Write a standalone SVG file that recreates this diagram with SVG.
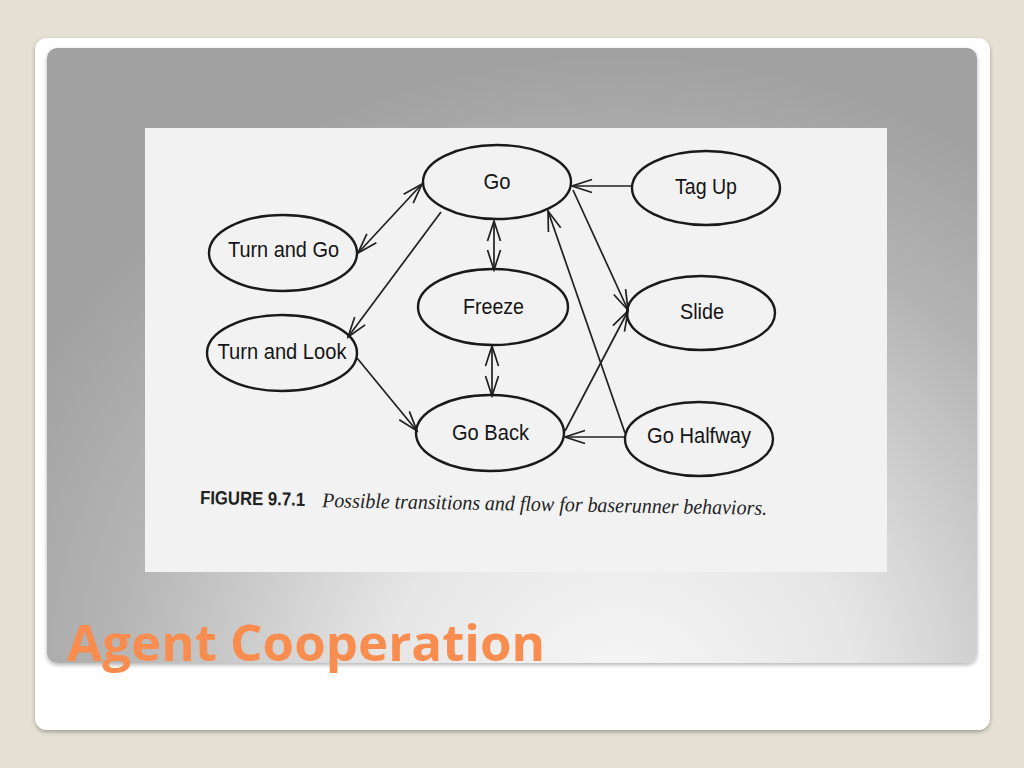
<svg xmlns="http://www.w3.org/2000/svg" width="1024" height="768" viewBox="0 0 1024 768">
<defs>
<style>
.node ellipse{fill:none;stroke:#1a1a1a;stroke-width:2.4}
.node text{font-family:"Liberation Sans",Arial,sans-serif;font-size:22px;fill:#151515;text-anchor:middle}
.conn line{stroke:#202020;stroke-width:1.7}
</style>
<radialGradient id="pg" cx="620" cy="700" r="680" gradientUnits="userSpaceOnUse" gradientTransform="translate(620 700) scale(1 0.95) translate(-620 -700)">
<stop offset="0" stop-color="#f7f7f7"/>
<stop offset="0.35" stop-color="#e6e6e6"/>
<stop offset="0.75" stop-color="#b4b4b4"/>
<stop offset="1" stop-color="#a1a1a1"/>
</radialGradient>
<filter id="sh" x="-5%" y="-5%" width="110%" height="110%">
<feGaussianBlur in="SourceAlpha" stdDeviation="2"/>
<feOffset dx="0" dy="2"/>
<feComponentTransfer><feFuncA type="linear" slope="0.3"/></feComponentTransfer>
<feMerge><feMergeNode/><feMergeNode in="SourceGraphic"/></feMerge>
</filter>
<marker id="ah" viewBox="-22 -10 24 20" refX="0" refY="0" markerWidth="24" markerHeight="20" markerUnits="userSpaceOnUse" orient="auto-start-reverse">
<path d="M-20,-6.5 L0,0 L-20,6.5" fill="none" stroke="#202020" stroke-width="1.7"/>
</marker>
</defs>
<rect width="1024" height="768" fill="#e4e0d3"/>
<rect x="35" y="38" width="955" height="692" rx="12" fill="#ffffff" filter="url(#sh)"/>
<rect x="47" y="48" width="930" height="615" rx="10" fill="url(#pg)" filter="url(#sh)"/>
<rect x="145" y="128" width="742" height="444" fill="#f2f2f2"/>

<g class="conn" id="connectors">
<line x1="422" y1="184" x2="358" y2="253" marker-start="url(#ah)" marker-end="url(#ah)"/>
<line x1="441" y1="212" x2="348" y2="337" marker-end="url(#ah)"/>
<line x1="494" y1="221" x2="494" y2="270" marker-start="url(#ah)" marker-end="url(#ah)"/>
<line x1="492" y1="346" x2="492" y2="396" marker-start="url(#ah)" marker-end="url(#ah)"/>
<line x1="357" y1="358" x2="417" y2="431" marker-end="url(#ah)"/>
<line x1="632" y1="186" x2="572" y2="186" marker-end="url(#ah)"/>
<line x1="573" y1="190" x2="628" y2="310" marker-end="url(#ah)"/>
<line x1="625" y1="433" x2="548" y2="211" marker-end="url(#ah)"/>
<line x1="565" y1="431" x2="628" y2="311" marker-end="url(#ah)"/>
<line x1="625" y1="437" x2="565" y2="437" marker-end="url(#ah)"/>
</g>

<g class="node" id="go"><ellipse cx="497" cy="182" rx="74" ry="37"/><text x="497" y="189" textLength="27" lengthAdjust="spacingAndGlyphs">Go</text></g>
<g class="node" id="turn-and-go"><ellipse cx="283" cy="253" rx="74" ry="38"/><text x="283.5" y="257" textLength="111" lengthAdjust="spacingAndGlyphs">Turn and Go</text></g>
<g class="node" id="turn-and-look"><ellipse cx="282" cy="353" rx="75" ry="38"/><text x="282" y="359" textLength="129" lengthAdjust="spacingAndGlyphs">Turn and Look</text></g>
<g class="node" id="freeze"><ellipse cx="493" cy="307" rx="75" ry="38"/><text x="493.5" y="314" textLength="61" lengthAdjust="spacingAndGlyphs">Freeze</text></g>
<g class="node" id="go-back"><ellipse cx="490" cy="433" rx="74" ry="38"/><text x="490.5" y="440" textLength="77" lengthAdjust="spacingAndGlyphs">Go Back</text></g>
<g class="node" id="tag-up"><ellipse cx="706" cy="188" rx="74" ry="37"/><text x="706" y="194" textLength="62" lengthAdjust="spacingAndGlyphs">Tag Up</text></g>
<g class="node" id="slide"><ellipse cx="701" cy="313" rx="74" ry="37"/><text x="702" y="319" textLength="44" lengthAdjust="spacingAndGlyphs">Slide</text></g>
<g class="node" id="go-halfway"><ellipse cx="699" cy="439" rx="74" ry="37"/><text x="699" y="443" textLength="104" lengthAdjust="spacingAndGlyphs">Go Halfway</text></g>

<g id="caption" transform="rotate(1 200 504)">
<text x="200" y="504" font-family="'Liberation Sans',Arial,sans-serif" font-weight="bold" font-size="19" fill="#222222" textLength="105" lengthAdjust="spacingAndGlyphs">FIGURE 9.7.1</text>
<text x="322" y="505" font-family="'Liberation Serif','Times New Roman',serif" font-style="italic" font-size="21" fill="#222222" textLength="445" lengthAdjust="spacingAndGlyphs">Possible transitions and flow for baserunner behaviors.</text>
</g>

<text x="67" y="661" font-family="'Open Sans','Noto Sans',sans-serif" font-weight="bold" font-size="51" fill="#f98d4f" textLength="478" lengthAdjust="spacingAndGlyphs">Agent Cooperation</text>
</svg>
